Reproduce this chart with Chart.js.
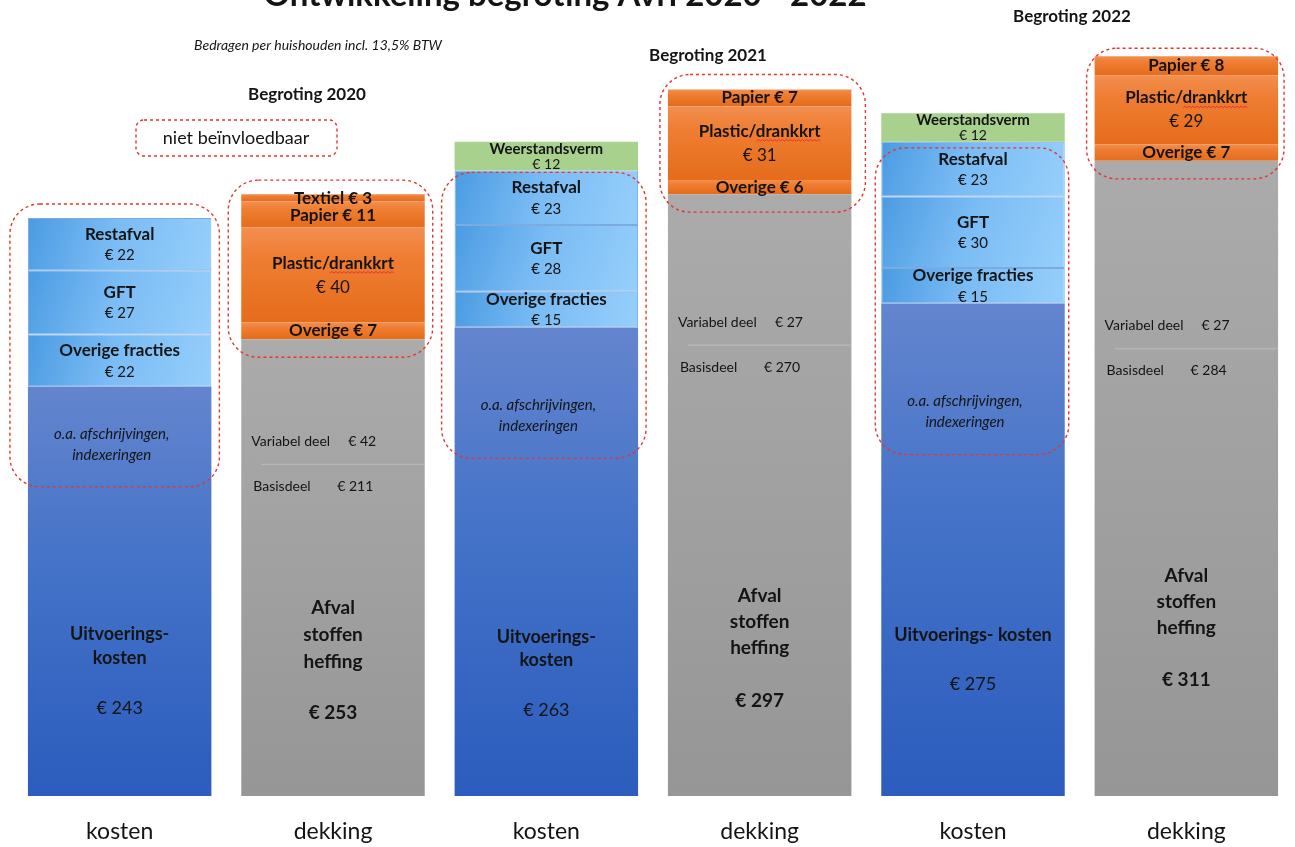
<!DOCTYPE html>
<html>
<head>
<meta charset="utf-8">
<title>Ontwikkeling begroting Avri 2020 - 2022</title>
<script src="https://cdn.jsdelivr.net/npm/chart.js@4.4.1/dist/chart.umd.min.js"></script>
<style>
  html, body { margin: 0; padding: 0; background: #fff; }
  #wrap { width: 1295px; height: 847px; }
</style>
</head>
<body>
<div id="wrap"><canvas id="afvalChart" width="1295" height="847"></canvas></div>
<script>
// categories on the x axis (three years, kosten + dekking each)
const categories = ['kosten', 'dekking', 'kosten', 'dekking', 'kosten', 'dekking'];
const years = ['Begroting 2020', 'Begroting 2021', 'Begroting 2022'];

// kosten per huishouden (euro)
const kostenTotaal = [243, 263, 275];
const restafval = [22, 23, 23];
const gft = [27, 28, 30];
const overigeFracties = [22, 15, 15];
const weerstand = [null, 12, 12];

// dekking per huishouden (euro)
const heffingTotaal = [253, 297, 311];
const variabelDeel = [42, 27, 27];
const basisDeel = [211, 270, 284];
const textiel = [3, null, null];
const papier = [11, 7, 8];
const plastic = [40, 31, 29];
const overigeOpbr = [7, 6, 7];

// --- helpers to spread the year values over the 6 bars
const onKosten = arr => categories.map((c, i) => c === 'kosten' ? arr[i >> 1] : null);
const onDekking = arr => categories.map((c, i) => c === 'dekking' ? arr[i >> 1] : null);
const restOf = (total, parts) => total.map((t, j) => t - parts.reduce((s, p) => s + (p[j] || 0), 0));

const series = [
  { key: 'uitv', label: 'Uitvoeringskosten', data: onKosten(restOf(kostenTotaal, [restafval, gft, overigeFracties])) },
  { key: 'ovf', label: 'Overige fracties', data: onKosten(overigeFracties) },
  { key: 'gft', label: 'GFT', data: onKosten(gft) },
  { key: 'rest', label: 'Restafval', data: onKosten(restafval) },
  { key: 'wv', label: 'Weerstandsverm', data: onKosten(weerstand) },
  { key: 'heff', label: 'Afvalstoffenheffing', data: onDekking(restOf(heffingTotaal, [textiel, papier, plastic, overigeOpbr])) },
  { key: 'ovo', label: 'Overige', data: onDekking(overigeOpbr) },
  { key: 'plas', label: 'Plastic/drankkrt', data: onDekking(plastic) },
  { key: 'pap', label: 'Papier', data: onDekking(papier) },
  { key: 'tex', label: 'Textiel', data: onDekking(textiel) }
];
const idx = key => series.findIndex(s => s.key === key);

const BAR_PCT = 0.86;
const FONT = 'Lato';
const B = s => `bold ${s}px ${FONT}`;
const N = s => `${s}px ${FONT}`;
const I = s => `italic ${s}px ${FONT}`;
const INK = '#141414';
const RED = '#e8332e';

function segRange(di, i) {
  let base = 0;
  for (let k = 0; k < di; k++) base += series[k].data[i] || 0;
  return [base, base + (series[di].data[i] || 0)];
}

function barBox(chart, di, i) {
  const xs = chart.scales.x, ys = chart.scales.y;
  const w = xs.width / categories.length * BAR_PCT;
  const cx = xs.getPixelForValue(i);
  const [a, b] = segRange(di, i);
  return { left: cx - w / 2, right: cx + w / 2, cx, top: ys.getPixelForValue(b), bottom: ys.getPixelForValue(a) };
}

const flat = { uitv: '#4472c4', ovf: '#7cbcf4', gft: '#7cbcf4', rest: '#7cbcf4', wv: '#a9d18e',
  heff: '#a3a3a3', ovo: '#ed7d31', plas: '#ed7d31', pap: '#ed7d31', tex: '#ed7d31' };

function paint(key) {
  return ctx => {
    if (ctx.type !== 'data' || !ctx.chart.chartArea) return flat[key];
    const b = barBox(ctx.chart, ctx.datasetIndex, ctx.dataIndex);
    const g = ctx.chart.ctx;
    let gr;
    if (key === 'wv') return '#a9d18e';
    if (key === 'uitv') {
      gr = g.createLinearGradient(0, b.top, 0, b.bottom);
      gr.addColorStop(0, '#6485ce'); gr.addColorStop(0.45, '#4372c8'); gr.addColorStop(1, '#2c5cbd');
    } else if (key === 'heff') {
      gr = g.createLinearGradient(0, b.top, 0, b.bottom);
      gr.addColorStop(0, '#ababab'); gr.addColorStop(1, '#969696');
    } else if (key === 'rest' || key === 'gft' || key === 'ovf') {
      gr = g.createLinearGradient(b.left, b.top, b.right, b.bottom);
      gr.addColorStop(0, '#4a9be2'); gr.addColorStop(0.45, '#79bbf4'); gr.addColorStop(1, '#96cffb');
    } else {
      gr = g.createLinearGradient(0, b.top, 0, b.bottom);
      gr.addColorStop(0, '#f28f50'); gr.addColorStop(0.3, '#ef7e33'); gr.addColorStop(1, '#e56c1b');
    }
    return gr;
  };
}

// text inside the coloured segments
const segText = {
  wv: j => [['Weerstandsverm', B(15), -7], ['€ ' + weerstand[j], N(14), 8]],
  rest: j => [['Restafval', B(17), -10], ['€ ' + restafval[j], N(15), 11]],
  gft: j => [['GFT', B(17), -10], ['€ ' + gft[j], N(15), 11]],
  ovf: j => [['Overige fracties', B(17), -10], ['€ ' + overigeFracties[j], N(15), 11]],
  tex: j => [['Textiel € ' + textiel[j], B(17), 0]],
  pap: j => [['Papier € ' + papier[j], B(17), 0]],
  plas: j => [['Plastic/drankkrt', B(17), -12, 'drankkrt'], ['€ ' + plastic[j], N(17), 12]],
  ovo: j => [['Overige € ' + overigeOpbr[j], B(17), 0]]
};

// free text placement (pixels, relative to segments)
const italicOff = [47, 78, 98];
const varOff = [102, 128, 165];
const kostenLines = [
  [['Uitvoerings-', B(18), -162], ['kosten', B(18), -138], ['€ ' + kostenTotaal[0], N(18), -88]],
  [['Uitvoerings-', B(18), -159], ['kosten', B(18), -136], ['€ ' + kostenTotaal[1], N(18), -86]],
  [['Uitvoerings- kosten', B(18), -161], ['€ ' + kostenTotaal[2], N(18), -112]]
];
const heffingOff = [[-188, -161, -134, -83], [-200, -174, -148, -95], [-220, -194, -168, -116]];
const headerPos = [[307, 95], [708, 56], [1072, 17]];

// red dashed groups
const groups = [
  { i: 0, top: 'rest', topPad: -14, padL: 18, padR: 8 },
  { i: 1, top: 'tex', bottom: 'ovo', topPad: -14, padL: 13, padR: 8 },
  { i: 2, top: 'rest', topPad: 2, padL: 13, padR: 8 },
  { i: 3, top: 'pap', bottom: 'ovo', topPad: -15, padL: 8, padR: 14 },
  { i: 4, top: 'rest', topPad: 6, padL: 6, padR: 4 },
  { i: 5, top: 'pap', bottom: 'ovo', topPad: -8, padL: 8, padR: 6 }
];

function text(g, str, x, y, font, align) {
  g.font = font;
  g.textAlign = align || 'center';
  g.textBaseline = 'middle';
  g.fillStyle = INK;
  g.fillText(str, x, y);
}

function squiggle(g, x0, x1, y) {
  g.save();
  g.strokeStyle = RED; g.lineWidth = 1;
  g.beginPath();
  let up = true;
  g.moveTo(x0, y);
  for (let x = x0 + 2; x <= x1; x += 2) { g.lineTo(x, up ? y - 1.5 : y); up = !up; }
  g.stroke();
  g.restore();
}

function roundRectPath(g, x, y, w, h, r) {
  g.beginPath();
  g.moveTo(x + r, y);
  g.arcTo(x + w, y, x + w, y + h, r);
  g.arcTo(x + w, y + h, x, y + h, r);
  g.arcTo(x, y + h, x, y, r);
  g.arcTo(x, y, x + w, y, r);
  g.closePath();
}

function dashedBox(g, x, y, w, h, r) {
  g.save();
  g.strokeStyle = RED; g.lineWidth = 1.4; g.setLineDash([3, 3]);
  roundRectPath(g, x, y, w, h, r);
  g.stroke();
  g.restore();
}

const overlay = {
  id: 'overlay',
  beforeDraw(chart) {
    const g = chart.ctx;
    g.save(); g.fillStyle = '#fff'; g.fillRect(0, 0, chart.width, chart.height); g.restore();
  },
  afterDatasetsDraw(chart) {
    const g = chart.ctx;
    g.save();
    // segment labels, top to bottom, pushed apart where segments are thin
    categories.forEach((c, i) => {
      const j = i >> 1;
      let prevBottom = null, barTop = null;
      for (let di = series.length - 1; di >= 0; di--) {
        const s = series[di];
        if (s.data[i] == null || !segText[s.key]) continue;
        const box = barBox(chart, di, i);
        if (barTop === null) barTop = box.top;
        const lines = segText[s.key](j);
        const h = Math.max(...lines.map(l => Math.abs(l[2]))) + 8;
        let cy = (box.top + box.bottom) / 2;
        if (prevBottom === null) cy = Math.max(cy, barTop + h - 4);
        else cy = Math.max(cy, prevBottom + h + 1);
        prevBottom = cy + h;
        lines.forEach(l => {
          text(g, l[0], box.cx, cy + l[2], l[1]);
          if (l[3]) {
            g.font = l[1];
            const full = g.measureText(l[0]).width;
            const pre = g.measureText(l[0].slice(0, l[0].length - l[3].length)).width;
            const x0 = box.cx - full / 2;
            squiggle(g, x0 + pre, x0 + full, cy + l[2] + 10);
          }
        });
      }
    });

    // big blue and grey parts
    for (let j = 0; j < 3; j++) {
      const kb = barBox(chart, idx('uitv'), j * 2);
      const iy = kb.top + italicOff[j];
      text(g, 'o.a. afschrijvingen,', kb.cx - 8, iy, I(15));
      text(g, 'indexeringen', kb.cx - 8, iy + 21, I(15));
      kostenLines[j].forEach(l => text(g, l[0], kb.cx, kb.bottom + l[2], l[1]));

      const hb = barBox(chart, idx('heff'), j * 2 + 1);
      const vy = hb.top + varOff[j];
      text(g, 'Variabel deel', hb.left + 10, vy, N(14), 'left');
      text(g, '€ ' + variabelDeel[j], hb.left + 107, vy, N(14), 'left');
      text(g, 'Basisdeel', hb.left + 12, vy + 45, N(14), 'left');
      text(g, '€ ' + basisDeel[j], hb.left + 96, vy + 45, N(14), 'left');
      g.save(); g.strokeStyle = 'rgba(200,200,200,0.7)'; g.lineWidth = 1;
      g.beginPath(); g.moveTo(hb.left + 20, vy + 23); g.lineTo(hb.right, vy + 23); g.stroke(); g.restore();
      const ho = heffingOff[j];
      text(g, 'Afval', hb.cx, hb.bottom + ho[0], B(19));
      text(g, 'stoffen', hb.cx, hb.bottom + ho[1], B(19));
      text(g, 'heffing', hb.cx, hb.bottom + ho[2], B(19));
      text(g, '€ ' + heffingTotaal[j], hb.cx, hb.bottom + ho[3], B(19));
    }

    // dashed groups
    groups.forEach(gr => {
      const t = barBox(chart, idx(gr.top), gr.i);
      let bottom;
      if (gr.bottom) bottom = barBox(chart, idx(gr.bottom), gr.i).bottom + 18;
      else bottom = barBox(chart, idx('uitv'), gr.i).top + italicOff[gr.i >> 1] + 21 + 32;
      const x = t.left - gr.padL, y = t.top + gr.topPad;
      dashedBox(g, x, y, t.right + gr.padR - x, bottom - y, 30);
    });
    g.restore();
  },
  afterDraw(chart) {
    const g = chart.ctx;
    g.save();
    g.font = B(33); g.textAlign = 'center'; g.textBaseline = 'alphabetic'; g.fillStyle = INK;
    g.fillText('Ontwikkeling begroting Avri 2020 - 2022', 565, 6);
    text(g, 'Bedragen per huishouden incl. 13,5% BTW', 318, 45, I(14));
    years.forEach((y, j) => text(g, y, headerPos[j][0], headerPos[j][1], B(17)));
    dashedBox(g, 136, 120, 201, 36, 8);
    text(g, 'niet beïnvloedbaar', 236, 138, N(18));
    g.restore();
  }
};

Chart.defaults.font.family = FONT;

new Chart(document.getElementById('afvalChart'), {
  type: 'bar',
  data: {
    labels: categories,
    datasets: series.map(s => ({
      label: s.label,
      data: s.data,
      backgroundColor: paint(s.key),
      borderWidth: ['rest', 'gft', 'ovf'].includes(s.key) ? 1 : 0,
      borderColor: 'rgba(90,150,215,0.8)',
      borderSkipped: false,
      barPercentage: BAR_PCT,
      categoryPercentage: 1,
      skipNull: true
    }))
  },
  options: {
    responsive: false,
    animation: false,
    layout: { padding: { left: 13, right: 2, top: 11, bottom: 0 } },
    plugins: { legend: { display: false }, tooltip: { enabled: false } },
    scales: {
      x: {
        stacked: true,
        grid: { display: false, drawTicks: false },
        border: { display: false },
        ticks: { color: INK, font: { size: 23 }, padding: 22 },
        afterFit: s => { s.height = 51; }
      },
      y: { stacked: true, display: false, min: 0, max: 330 }
    }
  },
  plugins: [overlay]
});
</script>
</body>
</html>
